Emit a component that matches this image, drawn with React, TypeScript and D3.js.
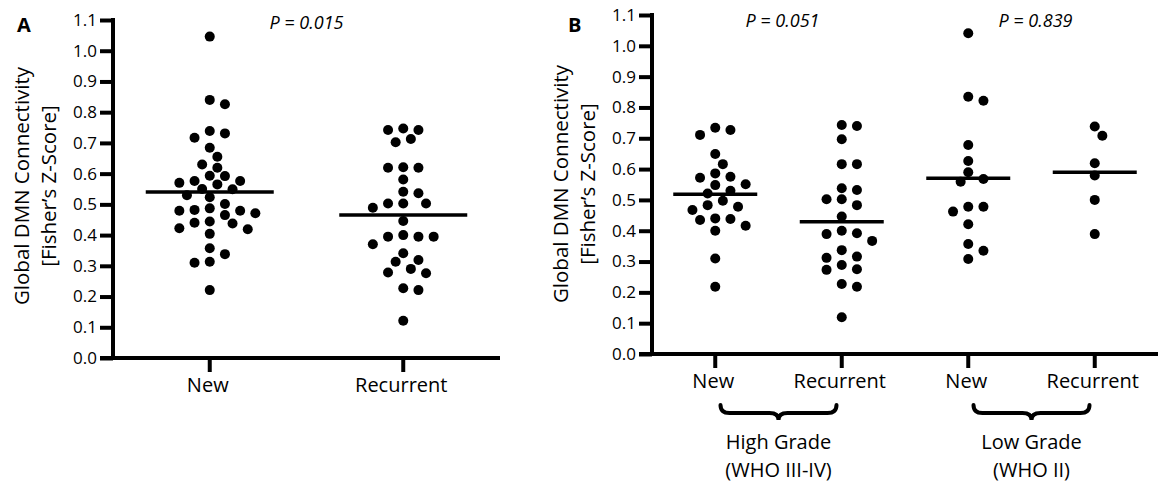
import { useEffect, useRef } from "react";
import * as d3 from "d3";

// values (Fisher's Z)
const yTickValues = [0.0, 0.1, 0.2, 0.3, 0.4, 0.5, 0.6, 0.7, 0.8, 0.9, 1.0, 1.1];

const aCategories = ["New", "Recurrent"];
const aNew = [1.046, 0.84, 0.826, 0.717, 0.739, 0.731, 0.684, 0.655, 0.63, 0.619, 0.593, 0.592,
  0.565, 0.576, 0.576, 0.57, 0.549, 0.55, 0.523, 0.53, 0.501, 0.487, 0.479, 0.471, 0.465, 0.479,
  0.482, 0.44, 0.438, 0.444, 0.422, 0.419, 0.404, 0.357, 0.338, 0.313, 0.31, 0.221];
const aRecurrent = [0.747, 0.742, 0.702, 0.713, 0.742, 0.621, 0.619, 0.619, 0.581, 0.541, 0.536,
  0.503, 0.489, 0.503, 0.503, 0.446, 0.395, 0.395, 0.37, 0.395, 0.4, 0.341, 0.319, 0.313, 0.29,
  0.276, 0.278, 0.227, 0.221, 0.121];
const aMeans = [0.54, 0.465];
const aPValue = "P = 0.015";

const bCategories = ["New HG", "Recurrent HG", "New LG", "Recurrent LG"];
const bTickLabels = ["New", "Recurrent", "New", "Recurrent"];
const bNewHigh = [0.727, 0.711, 0.734, 0.649, 0.616, 0.575, 0.572, 0.586, 0.548, 0.551, 0.521,
  0.53, 0.497, 0.478, 0.467, 0.483, 0.44, 0.435, 0.4, 0.416, 0.438, 0.31, 0.218];
const bRecHigh = [0.743, 0.74, 0.697, 0.616, 0.616, 0.532, 0.538, 0.502, 0.483, 0.502, 0.446,
  0.4, 0.389, 0.392, 0.367, 0.337, 0.316, 0.312, 0.289, 0.273, 0.275, 0.227, 0.218, 0.119];
const bNewLow = [1.041, 0.822, 0.835, 0.678, 0.626, 0.59, 0.568, 0.559, 0.478, 0.462, 0.478,
  0.421, 0.357, 0.335, 0.308];
const bRecLow = [0.738, 0.708, 0.619, 0.579, 0.5, 0.389];
const bMeans = [0.518, 0.429, 0.57, 0.59];
const bGroups = ["High Grade", "Low Grade"];
const bGroupSub = ["(WHO III-IV)", "(WHO II)"];
const bPValues = ["P = 0.051", "P = 0.839"];

const FONT = "'Open Sans', sans-serif";
const R = 5;

// simple greedy beeswarm: x offsets in px for each value
function swarm(values: number[], y: (v: number) => number, step: number, minDist: number) {
  const order = values.map((v, i) => i).sort((a, b) => values[b] - values[a]);
  const placed: { x: number; y: number }[] = [];
  const out: number[] = new Array(values.length).fill(0);
  for (const i of order) {
    const py = y(values[i]);
    for (let k = 0; k < 40; k++) {
      const off = k === 0 ? 0 : (k % 2 === 1 ? 1 : -1) * Math.ceil(k / 2) * step;
      const ok = placed.every((p) => Math.hypot(p.x - off, p.y - py) >= minDist);
      if (ok) {
        out[i] = off;
        placed.push({ x: off, y: py });
        break;
      }
    }
  }
  return out;
}

function drawPanel(svg: any, opts: any) {
  const { x, y, axisX, xStart, xEnd, axisY, series, means, halfWidth, labels } = opts;
  const g = svg.append("g");

  // y axis
  const yAxis = d3.axisLeft(y).tickValues(yTickValues).tickFormat(d3.format(".1f"))
    .tickSize(13).tickSizeOuter(0).tickPadding(3);
  const ya = g.append("g").attr("transform", `translate(${axisX},0)`).call(yAxis);
  ya.select(".domain").attr("stroke", "#000").attr("stroke-width", 4)
    .attr("d", `M0,${y(1.1) - 2}V${y(0) + 2}`);
  ya.selectAll(".tick line").attr("stroke", "#000").attr("stroke-width", 4);
  ya.selectAll(".tick text").attr("font-family", FONT).attr("font-size", 17).attr("fill", "#000");

  // x axis
  g.append("line").attr("x1", xStart).attr("x2", xEnd).attr("y1", axisY).attr("y2", axisY)
    .attr("stroke", "#000").attr("stroke-width", 4);
  const cats = x.domain();
  cats.forEach((c: string, i: number) => {
    const cx = x(c);
    g.append("line").attr("x1", cx).attr("x2", cx).attr("y1", axisY).attr("y2", axisY + 14)
      .attr("stroke", "#000").attr("stroke-width", 4);
    g.append("text").attr("x", cx - 2).attr("y", axisY + 34).attr("text-anchor", "middle")
      .attr("font-family", FONT).attr("font-size", 20).text(labels[i]);

    const vals = series[i];
    const offs = swarm(vals, y, 7.6, 11);
    g.selectAll(null).data(vals).enter().append("circle")
      .attr("cx", (d: number, j: number) => cx + offs[j]).attr("cy", (d: number) => y(d))
      .attr("r", R).attr("fill", "#000");

    g.append("line").attr("x1", cx - halfWidth).attr("x2", cx + halfWidth)
      .attr("y1", y(means[i])).attr("y2", y(means[i]))
      .attr("stroke", "#000").attr("stroke-width", 3.5);
  });
}

export default function App() {
  const ref = useRef<SVGSVGElement>(null);

  useEffect(() => {
    const svg = d3.select(ref.current);
    svg.selectAll("*").remove();

    const yA = d3.scaleLinear().domain([0, 1.1]).range([358, 20]);
    const xA = d3.scalePoint().domain(aCategories).range([113, 500]).padding(0.5);
    drawPanel(svg, {
      x: xA, y: yA, axisX: 113, xStart: 100, xEnd: 500, axisY: 358,
      series: [aNew, aRecurrent], means: aMeans, halfWidth: 64, labels: aCategories,
    });

    const yB = d3.scaleLinear().domain([0, 1.1]).range([354, 15]);
    const xB = d3.scalePoint().domain(bCategories).range([652, 1158]).padding(0.5);
    drawPanel(svg, {
      x: xB, y: yB, axisX: 652, xStart: 639, xEnd: 1158, axisY: 354,
      series: [bNewHigh, bRecHigh, bNewLow, bRecLow], means: bMeans, halfWidth: 42, labels: bTickLabels,
    });

    // panel letters
    svg.append("text").attr("x", 17).attr("y", 32).attr("font-family", FONT)
      .attr("font-weight", "bold").attr("font-size", 20).text("A");
    svg.append("text").attr("x", 568).attr("y", 32).attr("font-family", FONT)
      .attr("font-weight", "bold").attr("font-size", 20).text("B");

    // y titles
    const titles = [{ x: 21, y: 186 }, { x: 560, y: 184 }];
    titles.forEach((t) => {
      svg.append("text").attr("transform", `translate(${t.x},${t.y}) rotate(-90)`)
        .attr("text-anchor", "middle").attr("dominant-baseline", "central")
        .attr("font-family", FONT).attr("font-size", 20.5).text("Global DMN Connectivity");
      svg.append("text").attr("transform", `translate(${t.x + 27},${t.y}) rotate(-90)`)
        .attr("text-anchor", "middle").attr("dominant-baseline", "central")
        .attr("font-family", FONT).attr("font-size", 20.5).text("[Fisher\u2019s Z-Score]");
    });

    // p values
    const pText = (px: number, py: number, s: string) =>
      svg.append("text").attr("x", px).attr("y", py).attr("text-anchor", "middle")
        .attr("font-family", FONT).attr("font-style", "italic").attr("font-size", 18).text(s);
    pText((xA("New")! + xA("Recurrent")!) / 2, 29, aPValue);

    // braces + group labels
    [[0, 1], [2, 3]].forEach((pair, gi) => {
      const c1 = xB(bCategories[pair[0]])!;
      const c2 = xB(bCategories[pair[1]])!;
      const mid = (c1 + c2) / 2;
      pText(mid + 4, 27, bPValues[gi]);
      const x1 = mid - 58, x2 = mid + 58, y0 = 405, ym = 413, y1 = 420, h = 9;
      svg.append("path")
        .attr("d", `M${x1},${y0}Q${x1},${ym} ${x1 + h},${ym}L${mid - h},${ym}Q${mid},${ym} ${mid},${y1}` +
          `Q${mid},${ym} ${mid + h},${ym}L${x2 - h},${ym}Q${x2},${ym} ${x2},${y0}`)
        .attr("fill", "none").attr("stroke", "#000").attr("stroke-width", 4)
        .attr("stroke-linecap", "round");
      svg.append("text").attr("x", mid).attr("y", 449).attr("text-anchor", "middle")
        .attr("font-family", FONT).attr("font-size", 20).text(bGroups[gi]);
      svg.append("text").attr("x", mid).attr("y", 477).attr("text-anchor", "middle")
        .attr("font-family", FONT).attr("font-size", 20).text(bGroupSub[gi]);
    });
  }, []);

  return (
    <svg ref={ref} width={1158} height={485}
      style={{ position: "absolute", left: 0, top: 0, background: "#fff" }} />
  );
}
